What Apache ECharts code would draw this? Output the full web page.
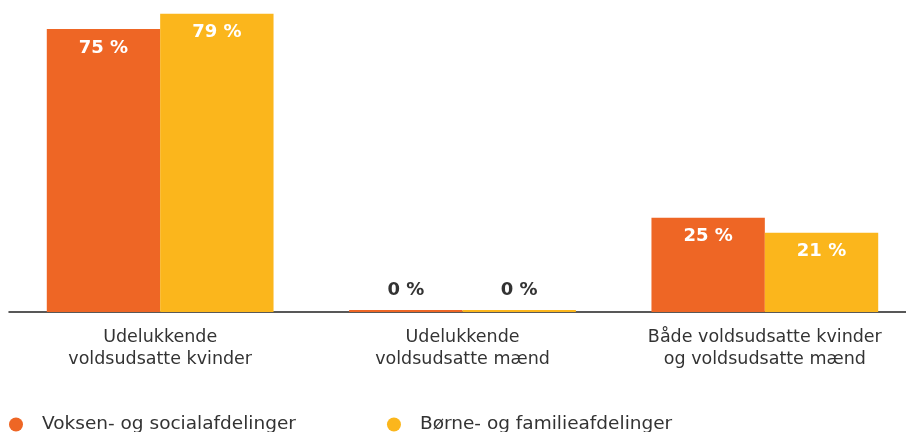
<!DOCTYPE html>
<html>
<head>
<meta charset="utf-8">
<script src="https://cdn.jsdelivr.net/npm/echarts@6/dist/echarts.min.js"></script>
<style>
  html, body { margin: 0; padding: 0; background: #fff; }
  #chart { width: 906px; height: 432px; }
</style>
</head>
<body>
<div id="chart"></div>
<script>
// kategorier og andele (%)
const categories = [
  'Udelukkende\nvoldsudsatte kvinder',
  'Udelukkende\nvoldsudsatte mænd',
  'Både voldsudsatte kvinder\nog voldsudsatte mænd'
]
const seriesNames = ['Voksen- og socialafdelinger', 'Børne- og familieafdelinger']
const voksenValues = [75, 0, 25]
const boerneValues = [79, 0, 21]

const colors = ['#EE6625', '#FBB61C']
const fontFamily = 'DejaVu Sans'

// værdier på 0 får label over søjlen i mørk tekst
function buildData(values) {
  return values.map(v => {
    if (v === 0) {
      return {
        value: v,
        label: { position: 'top', color: '#333', distance: 11 }
      }
    }
    return v
  })
}

const myChart = echarts.init(document.getElementById('chart'))
myChart.setOption({
  animation: false,
  color: colors,
  grid: {
    left: 9,
    width: 907,
    top: 10,
    bottom: 120,
    outerBoundsMode: 'none',
    containLabel: false
  },
  legend: {
    left: 4,
    top: 410,
    icon: 'circle',
    itemWidth: 14,
    itemHeight: 14,
    itemGap: 91,
    textStyle: {
      fontFamily: fontFamily,
      fontSize: 18.5,
      color: '#333',
      padding: [0, 0, 0, 14]
    },
    data: seriesNames
  },
  xAxis: {
    type: 'category',
    data: categories,
    axisTick: { show: false },
    axisLine: { lineStyle: { color: '#222', width: 1.5 } },
    axisLabel: {
      interval: 0,
      hideOverlap: false,
      margin: 14,
      fontFamily: fontFamily,
      fontSize: 17.5,
      lineHeight: 22,
      color: '#333'
    }
  },
  yAxis: {
    type: 'value',
    min: 0,
    max: 80,
    show: false
  },
  series: [
    {
      name: seriesNames[0],
      type: 'bar',
      barGap: 0,
      barCategoryGap: '25%',
      barMinHeight: 2,
      label: {
        show: true,
        position: 'insideTop',
        distance: 10,
        formatter: '{c} %',
        color: '#fff',
        fontFamily: fontFamily,
        fontWeight: 'bold',
        fontSize: 18
      },
      data: buildData(voksenValues)
    },
    {
      name: seriesNames[1],
      type: 'bar',
      barGap: 0,
      barCategoryGap: '25%',
      barMinHeight: 2,
      label: {
        show: true,
        position: 'insideTop',
        distance: 10,
        formatter: '{c} %',
        color: '#fff',
        fontFamily: fontFamily,
        fontWeight: 'bold',
        fontSize: 18
      },
      data: buildData(boerneValues)
    }
  ]
})
window.addEventListener('resize', () => {
  myChart.resize()
})
</script>
</body>
</html>
